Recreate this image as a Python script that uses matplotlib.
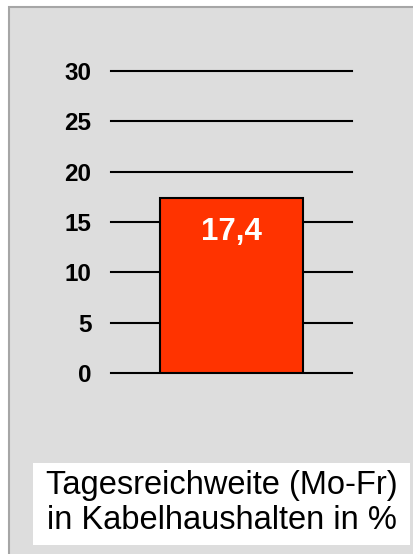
import matplotlib
matplotlib.use("Agg")
import matplotlib.pyplot as plt
from matplotlib.patches import Rectangle

# data
categories = ["Kabelhaushalte"]
values = [17.4]
value_labels = ["17,4"]
yticks = [0, 5, 10, 15, 20, 25, 30]
caption = "Tagesreichweite (Mo-Fr)\nin Kabelhaushalten in %"

W, H = 414, 554
fig = plt.figure(figsize=(W / 100, H / 100), dpi=100)
fig.patch.set_facecolor("white")
plt.rcParams["font.family"] = ["Liberation Sans", "DejaVu Sans"]

# grey panel behind everything (runs off the right and bottom edge)
panel = Rectangle((9 / W, -0.1), 1, 1.1 - 7 / H, transform=fig.transFigure,
                  facecolor="#dddddd", edgecolor="#a6a6a6", linewidth=1.5,
                  zorder=-5)
fig.patches.append(panel)

# white box for the caption, px 33..410 x 463..545
capbox = Rectangle((33 / W, 1 - 545 / H), 377 / W, 82 / H,
                   transform=fig.transFigure, facecolor="white",
                   edgecolor="none", zorder=-4)
fig.patches.append(capbox)

# axes: x 111..352 px, y 71..373 px
ax = fig.add_axes([111 / W, 1 - 373 / H, 241 / W, 302 / H])
ax.set_facecolor("none")
for s in ax.spines.values():
    s.set_visible(False)

for t in yticks:
    ax.axhline(t, color="black", linewidth=1.5, zorder=1, clip_on=False)

bars = ax.bar(range(len(values)), values, width=0.593, color="#ff3300",
              edgecolor="black", linewidth=1.5, zorder=2)
for b, lab in zip(bars, value_labels):
    ax.text(b.get_x() + b.get_width() / 2, b.get_height() - 1.9, lab,
            ha="center", va="top", color="white", fontsize=22.5,
            fontweight="bold", zorder=3)

ax.set_xlim(-0.5, 0.5)
ax.set_ylim(0, 30)
ax.set_xticks([])
ax.set_yticks(yticks)
ax.set_yticklabels([str(t) for t in yticks], fontsize=17.5, fontweight="bold")
ax.tick_params(axis="y", length=0, pad=14)

# caption
fig.text(222 / W, 1 - 503 / H, caption, ha="center", va="center",
         fontsize=23.5, linespacing=1.2)

fig.savefig("out.png", dpi=100)
